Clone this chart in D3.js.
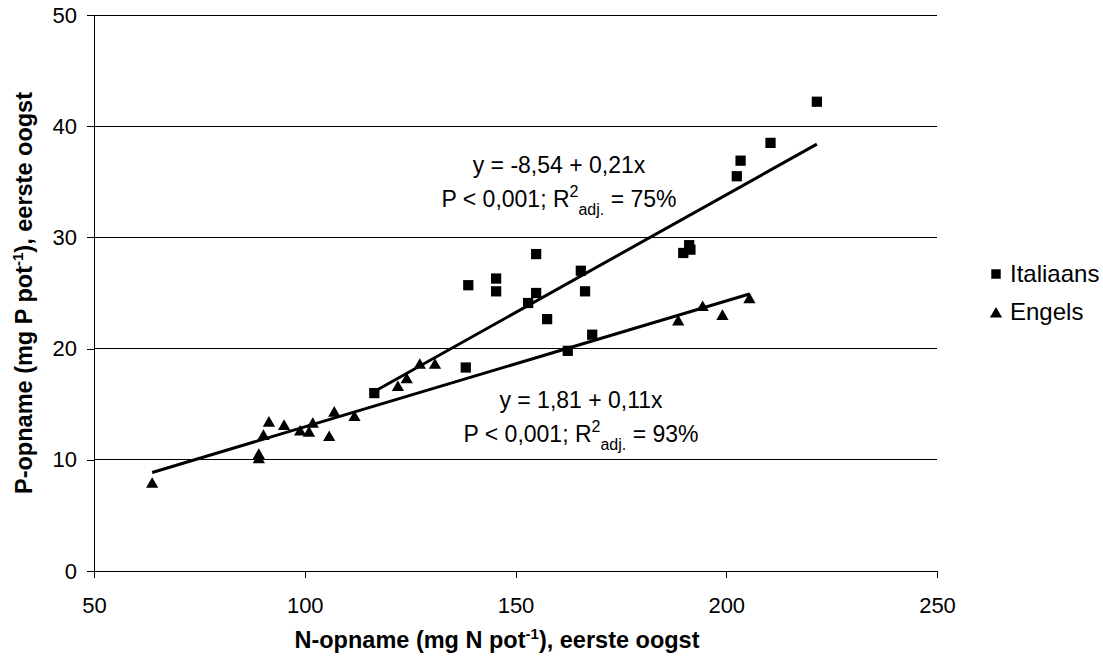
<!DOCTYPE html>
<html><head><meta charset="utf-8">
<script src="https://cdn.jsdelivr.net/npm/d3@7"></script>
<style>
body{margin:0;background:#fff;}
text{font-family:"Liberation Sans",Arial,sans-serif;fill:#000;}
</style></head>
<body><svg id="c" width="1103" height="669"></svg>
<script>
// Data
const italiaansN = [116.5,138.2,138.8,145.4,145.4,154.9,154.9,153.0,165.5,166.5,157.5,168.2,162.4,189.8,191.2,191.5,202.5,203.4,210.5,221.5];
const italiaansP = [16.0,18.3,25.7,26.3,25.15,28.5,25.0,24.1,27.0,25.15,22.65,21.25,19.8,28.6,29.3,28.9,35.5,36.9,38.5,42.2];
const engelsN = [63.8,89.1,89.1,90.2,91.5,95.1,98.9,101.0,101.9,105.8,107.0,111.8,122.1,124.2,127.3,130.9,188.6,194.4,199.1,205.5];
const engelsP = [7.8,10.0,10.4,12.1,13.3,13.0,12.5,12.4,13.2,12.0,14.2,13.8,16.5,17.2,18.5,18.5,22.4,23.7,22.9,24.4];
const seriesNames = ["Italiaans","Engels"];
const xTicks = [50,100,150,200,250];
const yTicks = [0,10,20,30,40,50];

const svg = d3.select("#c");
const x = d3.scaleLinear().domain([50,250]).range([94,937]);
const y = d3.scaleLinear().domain([0,50]).range([571,15]);

// gridlines
svg.append("g").selectAll("line").data(yTicks.filter(d=>d>0)).join("line")
  .attr("x1",x(50)).attr("x2",x(250)).attr("y1",d=>y(d)).attr("y2",d=>y(d))
  .attr("stroke","#000").attr("stroke-width",1).attr("shape-rendering","crispEdges");

// axes
const xAxis = svg.append("g").attr("transform",`translate(0,${y(0)})`)
  .call(d3.axisBottom(x).tickValues(xTicks).tickSize(7).tickFormat(d3.format("d")));
const yAxis = svg.append("g").attr("transform",`translate(${x(50)},0)`)
  .call(d3.axisLeft(y).tickValues(yTicks).tickSize(7).tickPadding(10).tickFormat(d3.format("d")));
[xAxis,yAxis].forEach(a=>{
  a.select(".domain").attr("stroke","#000").attr("shape-rendering","crispEdges");
  a.selectAll(".tick line").attr("stroke","#000").attr("shape-rendering","crispEdges");
  a.selectAll("text").attr("font-size",22).attr("font-family","Liberation Sans, Arial, sans-serif").attr("fill","#000");
});
xAxis.selectAll(".tick text").attr("y",42).attr("dy",0);

// regression (OLS) lines
function fit(xs,ys){
  const mx=d3.mean(xs), my=d3.mean(ys);
  const b=d3.sum(xs,(v,i)=>(v-mx)*(ys[i]-my))/d3.sum(xs,v=>(v-mx)*(v-mx));
  return [my-b*mx,b];
}
[[italiaansN,italiaansP],[engelsN,engelsP]].forEach(([xs,ys])=>{
  const [a,b]=fit(xs,ys);
  const x0=d3.min(xs), x1=d3.max(xs);
  svg.append("line").attr("x1",x(x0)).attr("y1",y(a+b*x0)).attr("x2",x(x1)).attr("y2",y(a+b*x1))
    .attr("stroke","#000").attr("stroke-width",3);
});

// markers
const sq = d3.symbol().type(d3.symbolSquare).size(105);
const tri = d3.symbol().type(d3.symbolTriangle).size(65);
svg.append("g").selectAll("path").data(italiaansN.map((n,i)=>[n,italiaansP[i]])).join("path")
  .attr("d",sq).attr("transform",d=>`translate(${x(d[0])},${y(d[1])})`).attr("fill","#000");
svg.append("g").selectAll("path").data(engelsN.map((n,i)=>[n,engelsP[i]])).join("path")
  .attr("d",tri).attr("transform",d=>`translate(${x(d[0])},${y(d[1])})`).attr("fill","#000");

// annotations
function annot(cx,cy,eq,pct){
  svg.append("text").attr("x",cx).attr("y",cy).attr("text-anchor","middle").attr("font-size",23).text(eq);
  const t=svg.append("text").attr("x",cx).attr("y",cy+34).attr("text-anchor","middle").attr("font-size",23);
  t.append("tspan").text("P < 0,001; R");
  t.append("tspan").attr("font-size",16).attr("dy",-10).text("2");
  t.append("tspan").attr("font-size",16).attr("dy",18).text("adj.");
  t.append("tspan").attr("dy",-8).text(" = "+pct);
}
annot(559,173,"y = -8,54 + 0,21x","75%");
annot(581,408,"y = 1,81 + 0,11x","93%");

// legend
const lg = svg.append("g");
lg.append("path").attr("d",d3.symbol().type(d3.symbolSquare).size(90)).attr("transform","translate(996,274)");
lg.append("text").attr("x",1010).attr("y",282).attr("font-size",24).text(seriesNames[0]);
lg.append("path").attr("d",d3.symbol().type(d3.symbolTriangle).size(65)).attr("transform","translate(996,314)");
lg.append("text").attr("x",1010).attr("y",320).attr("font-size",24).text(seriesNames[1]);

// axis titles
const xt = svg.append("text").attr("x",497).attr("y",648).attr("text-anchor","middle")
  .attr("font-size",23.5).attr("font-weight","bold");
xt.append("tspan").text("N-opname (mg N pot");
xt.append("tspan").attr("font-size",15).attr("dy",-9).text("-1");
xt.append("tspan").attr("dy",9).text("), eerste oogst");
const yt = svg.append("text").attr("transform","translate(32,293) rotate(-90)").attr("text-anchor","middle")
  .attr("font-size",23.5).attr("font-weight","bold");
yt.append("tspan").text("P-opname (mg P pot");
yt.append("tspan").attr("font-size",15).attr("dy",-9).text("-1");
yt.append("tspan").attr("dy",9).text("), eerste oogst");
</script></body></html>
